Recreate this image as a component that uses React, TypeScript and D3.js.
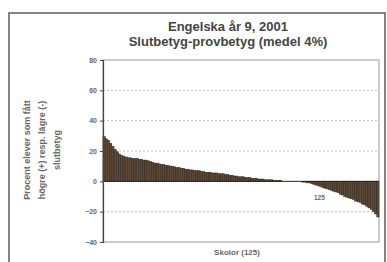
import React, { useEffect, useRef } from 'react';
import * as d3 from 'd3';

const titleLines = ['Engelska år 9, 2001', 'Slutbetyg-provbetyg (medel 4%)'];
const yTitleLines = ['Procent elever som fått', 'högre (+) resp. lägre (-)', 'slutbetyg'];
const yTicks = [-40, -20, 0, 20, 40, 60, 80];
const gridValues = [-20, 20, 40, 60];
const xLabel = 'Skolor (125)';
const countLabel = '125';

// percentage difference per school, sorted
const schoolValues = [
  29.5, 28, 27, 25, 23, 21, 19.5, 18, 17, 16.5,
  16, 15.5, 15.5, 15, 15, 15, 14.5, 14.5, 14, 14,
  13.5, 13, 12.5, 12, 12, 11.5, 11, 11, 10.5, 10.5,
  10, 10, 9.5, 9, 9, 8.5, 8.5, 8, 8, 7.5,
  7.5, 7, 7, 7, 6.5, 6.5, 6, 6, 6, 5.5,
  5.5, 5.5, 5, 5, 5, 4.5, 4.5, 4, 4, 3.5,
  3.5, 3, 3, 3, 2.5, 2.5, 2.5, 2, 2, 2,
  1.5, 1.5, 1.5, 1, 1, 1, 1, 0.5, 0.5, 0.5,
  0.5, 0, 0, 0, 0, 0, 0, 0, 0, 0,
  -0.5, -0.5, -1, -1, -1.5, -2, -2.5, -3, -3.5, -4,
  -4.5, -5, -5.5, -6, -6.5, -7, -7.5, -8.5, -9, -10,
  -10.5, -11, -11.5, -12, -13, -13.5, -14, -15, -15.5, -16.5,
  -17.5, -18.5, -20, -21.5, -23.5,
];

const App: React.FC = () => {
  const svgRef = useRef<SVGSVGElement>(null);

  useEffect(() => {
    if (!svgRef.current) return;
    const svg = d3.select(svgRef.current);
    svg.selectAll('*').remove();

    const width = 387;
    const height = 262;
    const plot = { left: 103, right: 379, top: 60, bottom: 242 };
    const font = 'Liberation Sans, Arial, sans-serif';

    svg.append('rect').attr('width', width).attr('height', height).attr('fill', '#fff');

    // outer frame
    svg
      .append('rect')
      .attr('x', 9)
      .attr('y', 13)
      .attr('width', 376)
      .attr('height', 260)
      .attr('fill', 'none')
      .attr('stroke', '#666')
      .attr('stroke-width', 1.6);

    // title
    titleLines.forEach((t, i) => {
      svg
        .append('text')
        .attr('x', 228)
        .attr('y', 31 + i * 15)
        .attr('text-anchor', 'middle')
        .attr('font-family', font)
        .attr('font-size', '13px')
        .attr('font-weight', 'bold')
        .attr('fill', '#444')
        .text(t);
    });

    const x = d3
      .scaleBand<number>()
      .domain(schoolValues.map((_, i) => i))
      .range([plot.left, plot.right])
      .paddingInner(0);
    const y = d3.scaleLinear().domain([-40, 80]).range([plot.bottom, plot.top]);

    // plot border
    svg
      .append('rect')
      .attr('x', plot.left)
      .attr('y', plot.top)
      .attr('width', plot.right - plot.left)
      .attr('height', plot.bottom - plot.top)
      .attr('fill', 'none')
      .attr('stroke', '#999')
      .attr('stroke-width', 1);

    // gridlines
    gridValues.forEach(v => {
      svg
        .append('line')
        .attr('x1', plot.left)
        .attr('x2', plot.right)
        .attr('y1', y(v))
        .attr('y2', y(v))
        .attr('stroke', '#bbb')
        .attr('stroke-dasharray', '2,2')
        .attr('stroke-width', 1);
    });

    // bars
    svg
      .append('g')
      .selectAll('rect')
      .data(schoolValues)
      .join('rect')
      .attr('x', (_, i) => x(i)!)
      .attr('width', x.bandwidth())
      .attr('y', d => y(Math.max(0, d)))
      .attr('height', d => Math.abs(y(d) - y(0)))
      .attr('fill', '#5e4a38')
      .attr('stroke', '#2a2018')
      .attr('stroke-width', 0.5);

    // zero line
    svg
      .append('line')
      .attr('x1', plot.left)
      .attr('x2', plot.right)
      .attr('y1', y(0))
      .attr('y2', y(0))
      .attr('stroke', '#222')
      .attr('stroke-width', 1);

    // y axis
    const yAxis = svg
      .append('g')
      .attr('transform', `translate(${plot.left},0)`)
      .call(d3.axisLeft(y).tickValues(yTicks).tickSize(3).tickFormat(d3.format('d')));
    yAxis.select('.domain').attr('stroke', '#444').attr('stroke-width', 1.2);
    yAxis.selectAll('line').attr('stroke', '#444');
    yAxis
      .selectAll('text')
      .attr('font-family', font)
      .attr('font-size', '7px')
      .attr('font-weight', 'bold')
      .attr('fill', '#666');

    // y title
    yTitleLines.forEach((t, i) => {
      svg
        .append('text')
        .attr('transform', `translate(${30 + i * 15},150) rotate(-90)`)
        .attr('text-anchor', 'middle')
        .attr('font-family', font)
        .attr('font-size', '9px')
        .attr('font-weight', 'bold')
        .attr('fill', '#666')
        .text(t);
    });

    // count label
    svg
      .append('text')
      .attr('x', x(98)!)
      .attr('y', y(-12))
      .attr('text-anchor', 'middle')
      .attr('font-family', font)
      .attr('font-size', '6.5px')
      .attr('font-weight', 'bold')
      .attr('fill', '#666')
      .text(countLabel);

    // x label
    svg
      .append('text')
      .attr('x', 237)
      .attr('y', 255)
      .attr('text-anchor', 'middle')
      .attr('font-family', font)
      .attr('font-size', '8px')
      .attr('font-weight', 'bold')
      .attr('fill', '#666')
      .text(xLabel);
  }, []);

  return (
    <svg
      ref={svgRef}
      width={387}
      height={262}
      style={{ position: 'absolute', left: 0, top: 0 }}
    />
  );
};

export default App;
